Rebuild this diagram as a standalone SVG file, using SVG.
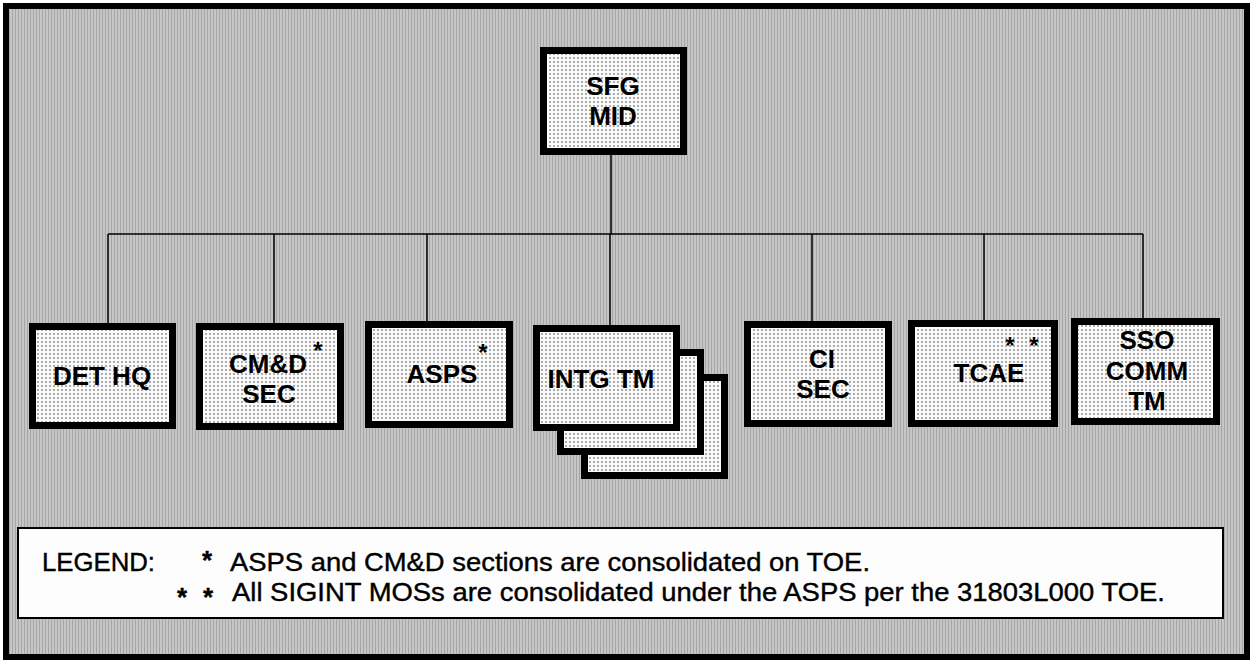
<svg xmlns="http://www.w3.org/2000/svg" width="1255" height="661" viewBox="0 0 1255 661">
  <defs>
    <pattern id="dots" x="0" y="0" width="4" height="4" patternUnits="userSpaceOnUse">
      <rect width="4" height="4" fill="#fafafa"/>
      <circle cx="2" cy="2" r="0.7" fill="#222"/>
    </pattern>
    <pattern id="bg" x="0" y="0" width="3" height="3" patternUnits="userSpaceOnUse">
      <rect width="3" height="3" fill="#c6c6c6"/>
      <rect width="1" height="3" fill="#a6a6a6"/>
    </pattern>
  </defs>
  <style>
    .frame { fill: url(#bg); stroke: #000; stroke-width: 6; }
    .node { fill: url(#dots); stroke: #000; stroke-width: 7; }
    .lbl { font-family: "Liberation Sans", Arial, sans-serif; font-weight: bold; font-size: 26px; fill: #000; text-anchor: middle; }
    .ast { font-family: "Liberation Sans", Arial, sans-serif; font-weight: bold; font-size: 24px; fill: #000; text-anchor: middle; }
    .conn { stroke: #000; stroke-width: 1.5; fill: none; }
    .legbox { fill: #fdfdfd; stroke: #000; stroke-width: 2; }
    .leg { font-family: "Liberation Sans", Arial, sans-serif; font-size: 26px; fill: #000; stroke: #000; stroke-width: 0.4; }
  </style>

  <rect class="frame" x="6" y="6" width="1241" height="651"/>

  <g id="connectors">
    <line class="conn" x1="611" y1="150" x2="611" y2="234"/>
    <line class="conn" x1="108" y1="234" x2="1143" y2="234"/>
    <line class="conn" x1="108" y1="234" x2="108" y2="327"/>
    <line class="conn" x1="274" y1="234" x2="274" y2="327"/>
    <line class="conn" x1="427" y1="234" x2="427" y2="325"/>
    <line class="conn" x1="610" y1="234" x2="610" y2="329"/>
    <line class="conn" x1="812" y1="234" x2="812" y2="325"/>
    <line class="conn" x1="984" y1="234" x2="984" y2="324"/>
    <line class="conn" x1="1143" y1="234" x2="1143" y2="322"/>
  </g>

  <g id="sfg-mid">
    <rect class="node" x="543.5" y="50.5" width="140" height="101"/>
    <text class="lbl" x="613" y="95">SFG</text>
    <text class="lbl" x="613" y="125">MID</text>
  </g>

  <g id="det-hq">
    <rect class="node" x="32.5" y="326.5" width="140" height="99"/>
    <text class="lbl" x="102" y="385">DET HQ</text>
  </g>

  <g id="cmd-sec">
    <rect class="node" x="199.5" y="326.5" width="141" height="100"/>
    <text class="lbl" x="268" y="373">CM&amp;D</text>
    <text class="lbl" x="269" y="403">SEC</text>
    <text class="ast" x="318" y="359">*</text>
  </g>

  <g id="asps">
    <rect class="node" x="368.5" y="324.5" width="141" height="100"/>
    <text class="lbl" x="442" y="383">ASPS</text>
    <text class="ast" x="483" y="361">*</text>
  </g>

  <g id="intg-tm">
    <rect class="node" x="584.5" y="377.5" width="140" height="98"/>
    <rect class="node" x="560.5" y="352.5" width="140" height="99"/>
    <rect class="node" x="536.5" y="328.5" width="140" height="99"/>
    <text class="lbl" x="601" y="388">INTG TM</text>
  </g>

  <g id="ci-sec">
    <rect class="node" x="747.5" y="324.5" width="141" height="99"/>
    <text class="lbl" x="822" y="368">CI</text>
    <text class="lbl" x="823" y="398">SEC</text>
  </g>

  <g id="tcae">
    <rect class="node" x="911.5" y="323.5" width="143" height="100"/>
    <text class="lbl" x="989" y="382">TCAE</text>
    <text class="ast" x="1010" y="354">*</text>
    <text class="ast" x="1034" y="354">*</text>
  </g>

  <g id="sso-comm-tm">
    <rect class="node" x="1074.5" y="321.5" width="142" height="100"/>
    <text class="lbl" x="1147" y="349">SSO</text>
    <text class="lbl" x="1147" y="380">COMM</text>
    <text class="lbl" x="1147" y="410">TM</text>
  </g>

  <g id="legend">
    <rect class="legbox" x="18" y="528" width="1205" height="90"/>
    <text class="leg" x="42" y="571" textLength="113" lengthAdjust="spacingAndGlyphs">LEGEND:</text>
    <text class="leg" x="207" y="569" text-anchor="middle" font-weight="bold">*</text>
    <text class="leg" x="230" y="571" textLength="640" lengthAdjust="spacingAndGlyphs">ASPS and CM&amp;D sections are consolidated on TOE.</text>
    <text class="leg" x="182" y="606" text-anchor="middle" font-weight="bold">*</text>
    <text class="leg" x="208" y="606" text-anchor="middle" font-weight="bold">*</text>
    <text class="leg" x="232" y="601" textLength="933" lengthAdjust="spacingAndGlyphs">All SIGINT MOSs are consolidated under the ASPS per the 31803L000 TOE.</text>
  </g>
</svg>
